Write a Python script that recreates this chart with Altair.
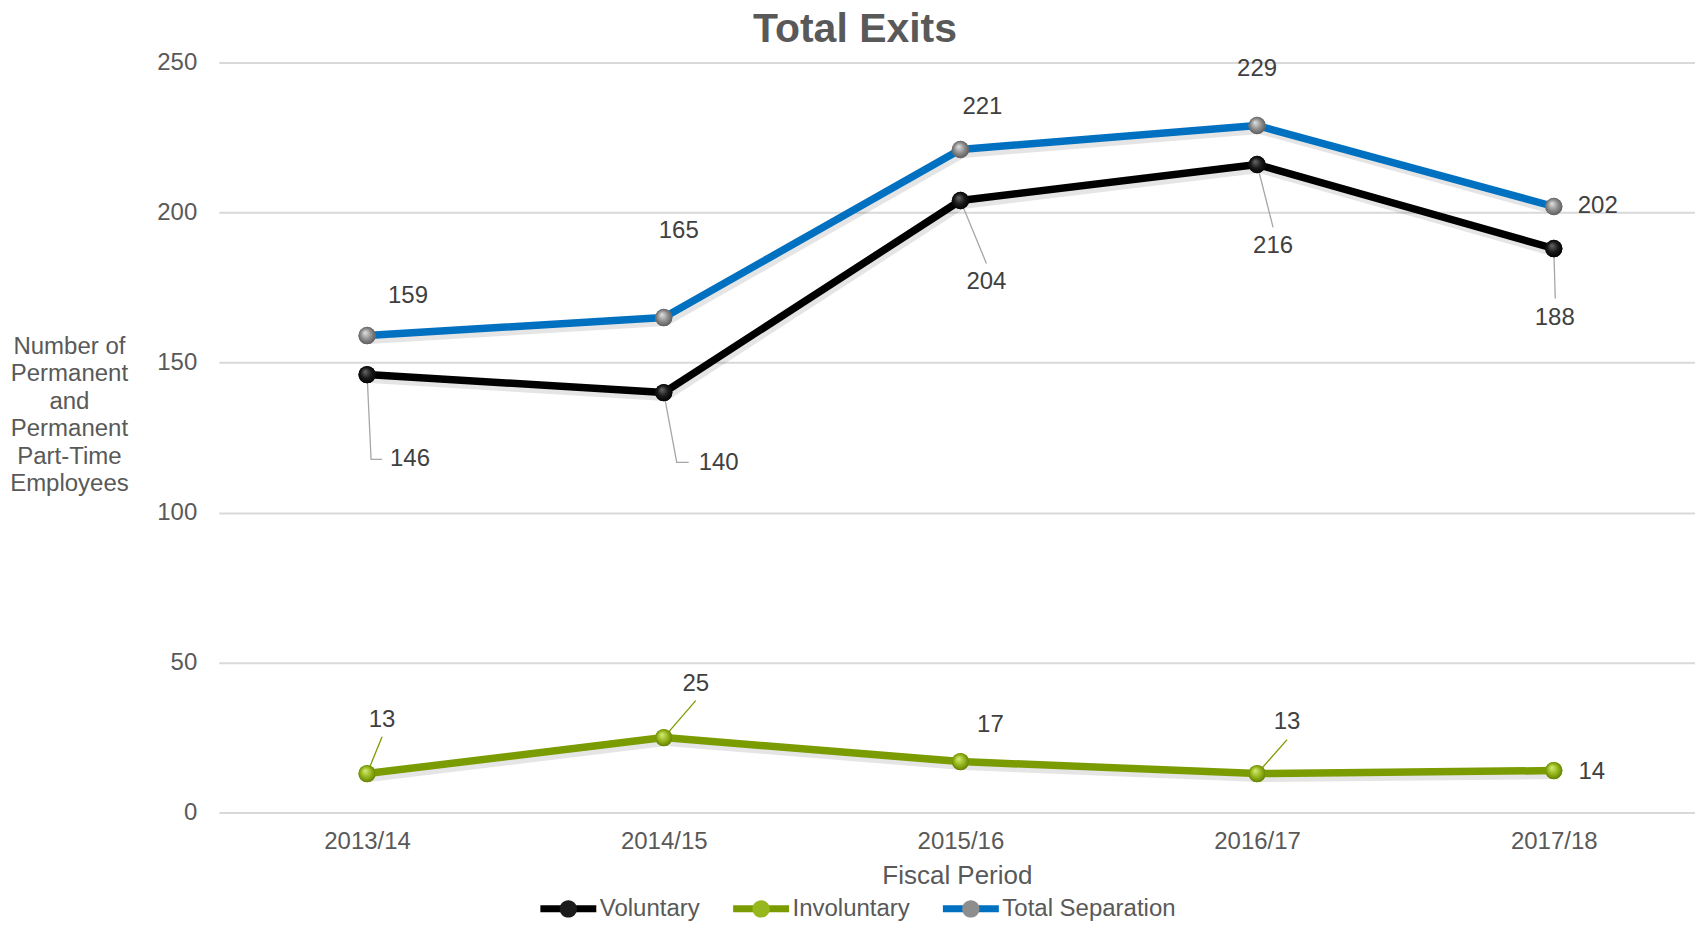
import json
import pandas as pd
import altair as alt

# ---------------- data ----------------
periods = ["2013/14", "2014/15", "2015/16", "2016/17", "2017/18"]
series_names = ["Voluntary", "Involuntary", "Total Separation"]
voluntary = [146, 140, 204, 216, 188]
involuntary = [13, 25, 17, 13, 14]
total_separation = [159, 165, 221, 229, 202]
y_ticks = [0, 50, 100, 150, 200, 250]
y_title = ["Number of", "Permanent", "and", "Permanent", "Part-Time", "Employees"]
chart_title = "Total Exits"
x_title = "Fiscal Period"

# ---------------- style ----------------
GRAY = "#595959"
LABEL_GRAY = "#404040"
FONT = "Liberation Sans"
line_colors = ["#000000", "#7a9c00", "#0070c0"]
marker_colors = ["#1c1c1c", "#96b81e", "#8e8e8e"]
marker_stops = [
    ["#6a6a6a", "#1a1a1a", "#000000"],
    ["#d8ec7a", "#93b51a", "#5d7800"],
    ["#e4e4e4", "#8e8e8e", "#555555"],
]
MARKER_SIZE = 300
SHADOW_DX, SHADOW_DY = 2, 4          # px, soft drop shadow under the lines
# data-label placement, pixels from the point (right, down)
label_offsets = {
    "Voluntary": [(43, 85), (55, 71), (26, 82), (16, 82), (1, 70)],
    "Involuntary": [(15, -54), (32, -54), (30, -37), (30, -52), (38, 1)],
    "Total Separation": [(41, -40), (15, -87), (22, -43), (0, -57), (44, 0)],
}
# leader lines, pixel offsets from the point
leader_paths = {
    "Voluntary": {
        0: [(0, 0), (4, 85), (15, 85)],
        1: [(0, 0), (13, 70), (25, 70)],
        2: [(0, 0), (26, 63)],
        3: [(0, 0), (16, 63)],
        4: [(0, 0), (1.5, 50)],
    },
    "Involuntary": {
        0: [(0, 0), (15, -37)],
        1: [(0, 0), (32, -37)],
        3: [(0, 0), (30, -34)],
    },
}
leader_colors = {"Voluntary": "#a6a6a6", "Involuntary": "#7a9c00"}

# ---------------- layout ----------------
PLOT_W, PLOT_H = 1478, 751
X_DOMAIN = [-0.5, 4.476]
Y_DOMAIN = [0, 250]
PX = PLOT_W / (X_DOMAIN[1] - X_DOMAIN[0])
PY = PLOT_H / (Y_DOMAIN[1] - Y_DOMAIN[0])

values_by_series = {
    "Voluntary": voluntary,
    "Involuntary": involuntary,
    "Total Separation": total_separation,
}

rows = []
for s in series_names:
    for i, v in enumerate(values_by_series[s]):
        rows.append({"series": s, "mseries": s, "x": i, "y": v})
df = pd.DataFrame(rows)

df_shadow = df.copy()
df_shadow["x"] = df_shadow["x"] + SHADOW_DX / PX
df_shadow["y"] = df_shadow["y"] - SHADOW_DY / PY

lab_rows = []
for s in series_names:
    for i, v in enumerate(values_by_series[s]):
        dx, dy = label_offsets[s][i]
        lab_rows.append({"series": s, "x": i + dx / PX, "y": v - dy / PY, "label": str(v)})
df_labels = pd.DataFrame(lab_rows)

lead_rows = []
for s, paths in leader_paths.items():
    for i, pts in paths.items():
        v = values_by_series[s][i]
        for k, (dx, dy) in enumerate(pts):
            lead_rows.append({"series": s, "lid": f"{s}-{i}", "ord": k,
                              "x": i + dx / PX, "y": v - dy / PY})
df_leaders = pd.DataFrame(lead_rows)

x_scale = alt.Scale(domain=X_DOMAIN, nice=False, zero=False)
y_scale = alt.Scale(domain=Y_DOMAIN, nice=False, zero=True)

x_axis = alt.Axis(
    values=list(range(len(periods))),
    labelExpr=f"{json.dumps(periods)}[datum.value]",
    grid=False, domain=False, ticks=False,
    labelFontSize=24, labelColor=GRAY, labelPadding=17,
    labelFlush=False, labelFont=FONT,
    title=x_title, titleFontSize=26, titleColor=GRAY, titleFontWeight="normal",
    titleFont=FONT, titleBaseline="alphabetic", titleY=71,
)
y_axis = alt.Axis(
    values=y_ticks, grid=True, gridColor="#d9d9d9", gridWidth=2,
    domain=False, ticks=False,
    labelFontSize=24, labelColor=GRAY, labelPadding=22, labelFont=FONT,
    title=y_title, titleAngle=0, titleAlign="center", titleBaseline="middle",
    titleX=-150, titleY=284, titleFontSize=24, titleLineHeight=27.6,
    titleFontWeight="normal", titleColor=GRAY, titleFont=FONT,
)
X = alt.X("x:Q", scale=x_scale, axis=x_axis)
Y = alt.Y("y:Q", scale=y_scale, axis=y_axis)

LEG_X, LEG_Y = 318.5, 815.5
common_leg = dict(
    title=None, orient="none", direction="horizontal",
    legendX=LEG_X, legendY=LEG_Y, padding=0,
    labelFontSize=24, labelColor=GRAY, labelFont=FONT, labelLimit=400,
    labelOffset=0, columnPadding=18, symbolSize=3136, symbolStrokeWidth=7,
)
line_legend = alt.Legend(symbolType="stroke", **common_leg)
# circle of the marker drawn in the middle of the same 56px-wide box as the line
marker_path = ("M-1,0L-1,0M1,0L1,0"
               "M0.31,0A0.31,0.31,0,1,1,-0.31,0A0.31,0.31,0,1,1,0.31,0Z")
marker_legend = alt.Legend(symbolType=marker_path, symbolStrokeColor="transparent",
                           labelOpacity=0, symbolOpacity=1, **common_leg)

shadows = alt.Chart(df_shadow).mark_line(
    strokeWidth=9, strokeJoin="round", strokeCap="round", color="#000000", opacity=0.10
).encode(x=X, y=Y, detail="series:N")

lines = alt.Chart(df).mark_line(strokeWidth=7.5, strokeJoin="round", strokeCap="round").encode(
    x=X, y=Y,
    color=alt.Color("series:N", sort=series_names,
                    scale=alt.Scale(range=line_colors), legend=line_legend),
)

leader_layers = []
for s in leader_paths:
    leader_layers.append(
        alt.Chart(df_leaders[df_leaders["series"] == s]).mark_line(
            strokeWidth=1.3, color=leader_colors[s]
        ).encode(x=X, y=Y, detail="lid:N", order="ord:Q")
    )

points = alt.Chart(df).mark_circle(size=MARKER_SIZE, opacity=1).encode(
    x=X, y=Y,
    fill=alt.Fill("mseries:N", sort=series_names,
                  scale=alt.Scale(range=marker_colors), legend=marker_legend),
)

grad_layers = []
for k, s in enumerate(series_names):
    st = marker_stops[k]
    grad = {
        "gradient": "radial",
        "x1": 0.38, "y1": 0.32, "r1": 0.0,
        "x2": 0.5, "y2": 0.5, "r2": 0.55,
        "stops": [
            {"offset": 0.0, "color": st[0]},
            {"offset": 0.55, "color": st[1]},
            {"offset": 1.0, "color": st[2]},
        ],
    }
    grad_layers.append(
        alt.Chart(df[df["series"] == s]).mark_circle(size=MARKER_SIZE, opacity=1).encode(
            x=X, y=Y, fill=alt.value(grad),
        )
    )

labels = alt.Chart(df_labels).mark_text(
    fontSize=24, color=LABEL_GRAY, align="center", baseline="middle", font=FONT
).encode(x=X, y=Y, text="label:N")

chart = alt.layer(
    shadows, lines, *leader_layers, points, *grad_layers, labels
).properties(
    width=PLOT_W, height=PLOT_H,
    padding={"left": 1, "top": 0, "right": 0, "bottom": 0},
    title=alt.TitleParams(
        chart_title, fontSize=41, fontWeight="bold", color=GRAY, font=FONT,
        anchor="middle", frame="group", dx=-102, dy=41, baseline="alphabetic", offset=9,
    ),
).configure(font=FONT).configure_view(strokeWidth=0)

chart.save("out.html", embed_options={"renderer": "svg", "actions": False})
